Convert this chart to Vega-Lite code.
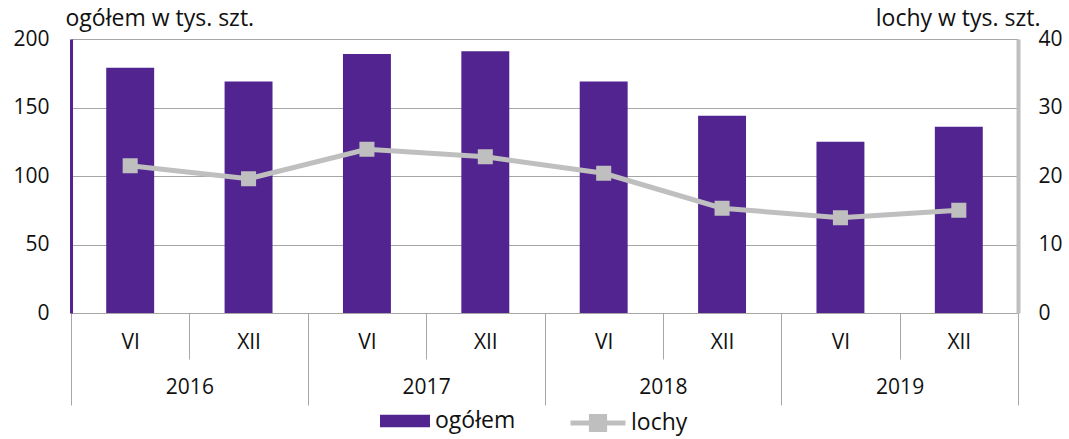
{
  "$schema": "https://vega.github.io/schema/vega-lite/v6.json",
  "width": 947,
  "height": 274,
  "autosize": {"type": "none"},
  "padding": {"left": 71, "top": 39, "right": 51, "bottom": 126},
  "config": {
    "font": "Open Sans",
    "view": {"stroke": null},
    "axis": {"labelFont": "Open Sans", "labelFontSize": 21, "labelColor": "#111111", "titleFont": "Open Sans", "titleFontSize": 23, "titleFontWeight": "normal", "titleColor": "#111111"},
    "legend": {"labelFont": "Open Sans", "labelFontSize": 23, "labelColor": "#111111"}
  },
  "data": {
    "values": [
      {"year": "2016", "month": "VI", "key": "2016 VI", "ogolem": 179, "lochy": 21.5},
      {"year": "2016", "month": "XII", "key": "2016 XII", "ogolem": 169, "lochy": 19.6},
      {"year": "2017", "month": "VI", "key": "2017 VI", "ogolem": 189, "lochy": 23.9},
      {"year": "2017", "month": "XII", "key": "2017 XII", "ogolem": 191, "lochy": 22.8},
      {"year": "2018", "month": "VI", "key": "2018 VI", "ogolem": 169, "lochy": 20.4},
      {"year": "2018", "month": "XII", "key": "2018 XII", "ogolem": 144, "lochy": 15.3},
      {"year": "2019", "month": "VI", "key": "2019 VI", "ogolem": 125, "lochy": 13.9},
      {"year": "2019", "month": "XII", "key": "2019 XII", "ogolem": 136, "lochy": 15.0}
    ]
  },
  "layer": [
    {
      "layer": [
        {
          "mark": {"type": "bar", "width": {"band": 0.405}},
          "encoding": {
            "x": {"field": "key", "type": "nominal", "sort": null, "scale": {"paddingInner": 0, "paddingOuter": 0},
              "axis": {"title": null, "labelExpr": "split(datum.value, ' ')[1]", "labelAngle": 0, "tickBand": "extent", "tickSize": 46, "tickColor": "#a6a6a6", "domainColor": "#a6a6a6", "labelBaseline": "middle", "labelPadding": -17, "grid": false}},
            "y": {"field": "ogolem", "type": "quantitative", "scale": {"domain": [0, 200]},
              "axis": {"values": [0, 50, 100, 150, 200], "title": "ogółem w tys. szt.", "titleAngle": 0, "titleAlign": "left", "titleBaseline": "alphabetic", "titleX": -6, "titleY": -14, "ticks": false, "domainColor": "#52248F", "domainWidth": 3, "grid": true, "gridColor": "#a6a6a6", "labelPadding": 22}},
            "color": {"datum": "ogółem", "type": "nominal", "scale": {"range": ["#52248F"]},
              "legend": {"orient": "none", "legendX": 309, "legendY": 357, "title": null, "symbolType": "M-1,-0.25H1V0.25H-1Z", "symbolSize": 2500, "symbolStrokeWidth": 0, "labelOffset": 5}}
          }
        },
        {
          "mark": {"type": "line", "strokeWidth": 5, "color": "#BFBFBF", "point": {"shape": "square", "size": 170, "filled": true, "color": "#BFBFBF"}},
          "encoding": {
            "x": {"field": "key", "type": "nominal", "sort": null},
            "y": {"field": "lochy", "type": "quantitative", "scale": {"domain": [0, 40]},
              "axis": {"orient": "right", "values": [0, 10, 20, 30, 40], "grid": false, "ticks": false, "domainColor": "#BFBFBF", "domainWidth": 4, "title": "lochy w tys. szt.", "titleAngle": 0, "titleAlign": "right", "titleBaseline": "alphabetic", "titleX": 22, "titleY": -14, "labelPadding": 20}},
            "stroke": {"datum": "lochy", "type": "nominal", "scale": {"range": ["#BFBFBF"]},
              "legend": {"orient": "none", "legendX": 497, "legendY": 354, "title": null, "symbolType": "M-1,0H1M-0.24,-0.24H0.24V0.24H-0.24Z", "symbolSize": 3025, "symbolStrokeWidth": 5, "symbolFillColor": "#BFBFBF", "labelOffset": 3}}
          }
        }
      ],
      "resolve": {"scale": {"y": "independent"}}
    },
    {
      "mark": {"type": "text", "opacity": 0},
      "encoding": {
        "x": {"field": "year", "type": "nominal", "scale": {"paddingInner": 0, "paddingOuter": 0},
          "axis": {"orient": "bottom", "title": null, "labelAngle": 0, "tickBand": "extent", "tickSize": 92, "tickColor": "#a6a6a6", "domain": false, "labelBaseline": "middle", "labelPadding": -18}},
        "text": {"field": "year"}
      }
    }
  ],
  "resolve": {"scale": {"x": "independent"}}
}
